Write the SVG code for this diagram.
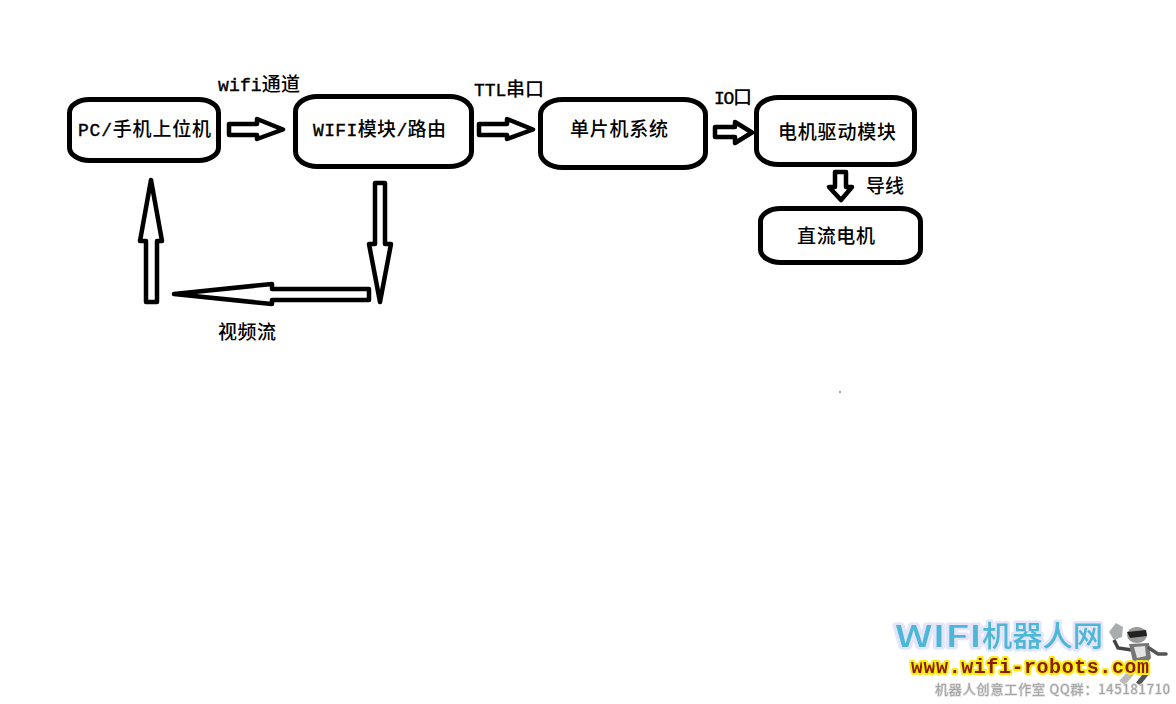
<svg xmlns="http://www.w3.org/2000/svg" width="1176" height="704" viewBox="0 0 1176 704">
<style>
.box{fill:#fff;stroke:#000;stroke-width:5}
.arr{fill:#fff;stroke:#000;stroke-width:4.5;stroke-linejoin:round}
text{font-family:"Liberation Serif","Noto Sans CJK SC",serif;font-size:19px;fill:#000;font-weight:500}
.l{font-family:"Liberation Mono","Noto Sans CJK SC",monospace;font-size:18px;font-weight:400;stroke:#000;stroke-width:0.400}
.wm1{font-family:"Noto Sans CJK SC",sans-serif;font-size:29px;font-weight:500;fill:#4db8d6;stroke:#e4e4fa;stroke-width:5;paint-order:stroke;stroke-linejoin:round}
.wm2{font-family:"Liberation Mono",monospace;font-size:20px;font-weight:700;fill:#8a1c00;stroke:#f8ee10;stroke-width:4;paint-order:stroke;stroke-linejoin:round}
.wm3{font-family:"Noto Sans CJK SC","Liberation Sans",sans-serif;font-size:13px;font-weight:400;fill:#a4a4a4;stroke:#dcdcdc;stroke-width:1.500;paint-order:stroke;stroke-linejoin:round}
</style>
<defs><filter id="soft" x="-5%" y="-20%" width="110%" height="140%"><feGaussianBlur stdDeviation="0.5"/></filter></defs>
<rect width="1176" height="704" fill="#fff"/>
<g id="connectors">
<polygon class="arr" points="229,124 257,124 257,119 283,129.500 257,139 257,135 229,135"/>
<polygon class="arr" points="479,124 507,124 507,119 533,129.500 507,139 507,135 479,135"/>
<polygon class="arr" points="715,127 735,127 735,122 752,132.500 735,143 735,137 715,137"/>
<polygon class="arr" points="835,172 846,172 846,187 852,187 841,200 829,187 835,187"/>
<polygon class="arr" points="375,183 385,183 385,244 391,244 380,302 369,244 375,244"/>
<polygon class="arr" points="369,289 369,300 272,300 272,304 174,294 272,284 272,289"/>
<polygon class="arr" points="146,302 157,302 157,241 162,241 151,180 140,241 146,241"/>
</g>
<g id="node-pc"><rect class="box" x="69.500" y="99.500" width="149" height="61" rx="20" ry="13"/><text x="78" y="136" textLength="133"><tspan class="l">PC/</tspan>手机上位机</text></g>
<g id="node-wifi"><rect class="box" x="295.500" y="96.500" width="176" height="70" rx="22" ry="15"/><text x="313" y="136" textLength="133"><tspan class="l">WIFI</tspan>模块<tspan class="l">/</tspan>路由</text></g>
<g id="node-mcu"><rect class="box" x="540.500" y="99.500" width="165" height="68" rx="22" ry="15"/><text x="570" y="136" textLength="98">单片机系统</text></g>
<g id="node-driver"><rect class="box" x="756.500" y="97.500" width="158" height="67" rx="22" ry="15"/><text x="778" y="139" textLength="118">电机驱动模块</text></g>
<g id="node-motor"><rect class="box" x="760.500" y="208.500" width="160" height="54" rx="20" ry="13"/><text x="797" y="243" textLength="78">直流电机</text></g>
<g id="labels">
<text x="218" y="91" textLength="82"><tspan class="l">wifi</tspan>通道</text>
<text x="474" y="96" textLength="70"><tspan class="l">TTL</tspan>串口</text>
<text x="714" y="104" textLength="38"><tspan class="l">IO</tspan>口</text>
<text x="866" y="193" textLength="38">导线</text>
<text x="218" y="339" textLength="58">视频流</text>
</g>
<circle cx="840" cy="392" r="0.800" fill="#333"/>
<g id="watermark">
<g filter="url(#soft)">
<g id="robot">
<polygon points="1109,632 1116,623 1123,627 1122,637 1114,640" fill="#a8aeb0"/>
<path d="M1114 640L1118 648L1132 650" stroke="#444" stroke-width="3.500" fill="none"/>
<ellipse cx="1137" cy="635" rx="10" ry="8" fill="#999"/>
<path d="M1127 632L1146 630L1147 636L1130 638Z" fill="#222"/>
<path d="M1129 644L1149 643L1151 658L1146 664L1133 662Z" fill="#777"/>
<path d="M1134 647L1145 646L1146 656L1137 658Z" fill="#e4e4e4"/>
<path d="M1149 648L1158 654L1166 654" stroke="#555" stroke-width="3.500" fill="none" stroke-linecap="round"/>
<path d="M1137 662L1130 674L1122 683" stroke="#bbb" stroke-width="7" fill="none"/>
<path d="M1144 662L1146 674L1138 684" stroke="#555" stroke-width="5" fill="none"/>
</g>
<text class="wm1" x="895" y="647" textLength="87" lengthAdjust="spacingAndGlyphs">WIFI</text>
<text class="wm1" x="982" y="647" textLength="121" lengthAdjust="spacingAndGlyphs">机器人网</text>
<text class="wm2" x="911" y="673" textLength="238">www.wifi-robots.com</text>
<text class="wm3" x="935" y="694" textLength="235">机器人创意工作室 QQ群：145181710</text>
</g>
</g>
</svg>
